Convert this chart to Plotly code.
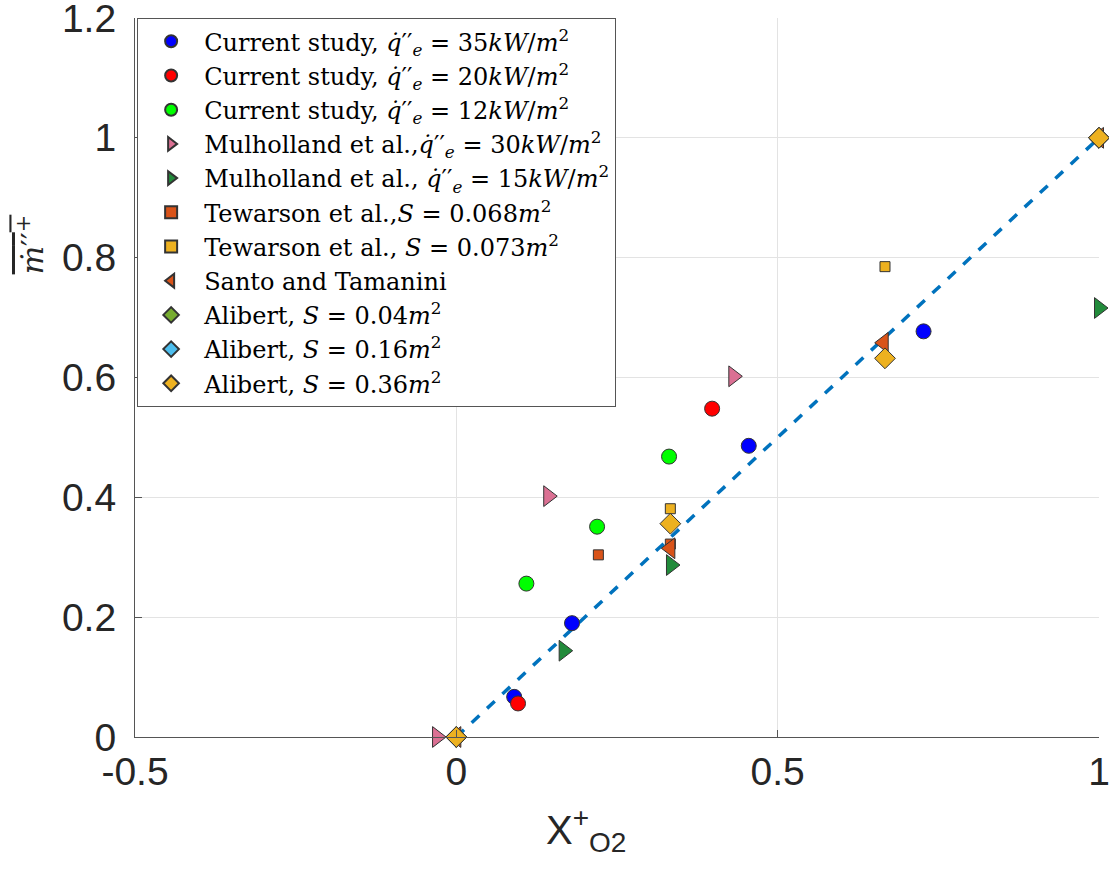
import plotly.graph_objects as go

# ---- data ----
cs35_x = [0.09, 0.18, 0.455, 0.727]
cs35_y = [0.067, 0.19, 0.486, 0.677]
cs20_x = [0.096, 0.398]
cs20_y = [0.056, 0.548]
cs12_x = [0.109, 0.219, 0.331]
cs12_y = [0.256, 0.351, 0.468]
mul30_x = [-0.03, 0.143, 0.431]
mul30_y = [0.0, 0.402, 0.602]
mul15_x = [0.167, 0.334, 1.0]
mul15_y = [0.144, 0.287, 0.716]
tew068_x = [0.221, 0.333]
tew068_y = [0.304, 0.322]
tew073_x = [0.333, 0.667]
tew073_y = [0.381, 0.785]
santo_x = [0.0, 0.333, 0.665, 1.0]
santo_y = [0.0, 0.315, 0.658, 1.0]
ali04_x = [0.0, 1.0]
ali04_y = [0.0, 1.0]
ali16_x = [0.0, 1.0]
ali16_y = [0.0, 1.0]
ali36_x = [0.0, 0.333, 0.667, 1.0]
ali36_y = [0.0, 0.356, 0.632, 1.0]
fit_x = [0.0, 1.0]
fit_y = [0.0, 1.0]

x_ticks = [-0.5, 0, 0.5, 1]
x_ticklabels = ["-0.5", "0", "0.5", "1"]
y_ticks = [0, 0.2, 0.4, 0.6, 0.8, 1, 1.2]
y_ticklabels = ["0", "0.2", "0.4", "0.6", "0.8", "1", "1.2"]

QE = "<i>q̇</i>′′<sub><i>e</i></sub>"
names = [
    f"Current study, {QE} = 35<i>kW</i>/<i>m</i><sup>2</sup>",
    f"Current study, {QE} = 20<i>kW</i>/<i>m</i><sup>2</sup>",
    f"Current study, {QE} = 12<i>kW</i>/<i>m</i><sup>2</sup>",
    f"Mulholland et al.,{QE} = 30<i>kW</i>/<i>m</i><sup>2</sup>",
    f"Mulholland et al., {QE} = 15<i>kW</i>/<i>m</i><sup>2</sup>",
    "Tewarson et al.,<i>S</i> = 0.068<i>m</i><sup>2</sup>",
    "Tewarson et al., <i>S</i> = 0.073<i>m</i><sup>2</sup>",
    "Santo and Tamanini",
    "Alibert, <i>S</i> = 0.04<i>m</i><sup>2</sup>",
    "Alibert, <i>S</i> = 0.16<i>m</i><sup>2</sup>",
    "Alibert, <i>S</i> = 0.36<i>m</i><sup>2</sup>",
]

fig = go.Figure()

# fit line (drawn beneath markers)
fig.add_trace(go.Scatter(x=fit_x, y=fit_y, mode="lines", showlegend=False,
                         line=dict(color="#0072BD", width=3.5, dash="dash"),
                         cliponaxis=False))

series = [
    (cs35_x, cs35_y, "circle", "#0000FF", 15),
    (cs20_x, cs20_y, "circle", "#FF0000", 15),
    (cs12_x, cs12_y, "circle", "#00FF00", 15),
    (mul30_x, mul30_y, "triangle-right", "#DB7093", 18),
    (mul15_x, mul15_y, "triangle-right", "#228B3B", 18),
    (tew068_x, tew068_y, "square", "#D95319", 10),
    (tew073_x, tew073_y, "square", "#EDB120", 10),
    (santo_x, santo_y, "triangle-left", "#D95319", 18),
    (ali04_x, ali04_y, "diamond", "#77AC30", 16),
    (ali16_x, ali16_y, "diamond", "#4DBEEE", 16),
    (ali36_x, ali36_y, "diamond", "#EDB120", 16),
]

for (xs, ys, sym, col, sz), nm in zip(series, names):
    fig.add_trace(go.Scatter(
        x=xs, y=ys, mode="markers", name=nm, cliponaxis=False,
        marker=dict(symbol=sym, color=col, size=sz,
                    line=dict(color="#333333", width=1)),
    ))

fig.update_layout(
    width=1109, height=880,
    margin=dict(l=135, r=10, t=18, b=143),
    paper_bgcolor="white", plot_bgcolor="white",
    font=dict(family="Liberation Sans, Arial, sans-serif", color="#262626"),
    legend=dict(
        x=0.002, y=1, xanchor="left", yanchor="top",
        bgcolor="white", bordercolor="#555555", borderwidth=1.2,
        font=dict(family="DejaVu Serif, serif", size=24, color="#000000"),
        itemsizing="constant", tracegroupgap=0, itemwidth=56,
    ),
    xaxis=dict(
        range=[-0.5, 1], tickvals=x_ticks, ticktext=x_ticklabels,
        showgrid=True, gridcolor="#e3e3e3", gridwidth=1, zeroline=False,
        showline=True, linecolor="#555555", linewidth=1.2,
        ticks="inside", ticklen=7, tickcolor="#555555",
        tickfont=dict(size=39, color="#262626"),
        automargin=False, ticklabeloverflow="allow",
    ),
    yaxis=dict(
        range=[0, 1.2], tickvals=y_ticks, ticktext=y_ticklabels,
        showgrid=True, gridcolor="#e3e3e3", gridwidth=1, zeroline=False,
        showline=True, linecolor="#555555", linewidth=1.2,
        ticks="inside", ticklen=7, tickcolor="#555555",
        tickfont=dict(size=39, color="#262626"),
        automargin=False, ticklabeloverflow="allow", ticklabelstandoff=10,
    ),
    annotations=[
        dict(text="X<sup>+</sup><sub>O2</sub>", xref="paper", yref="paper",
             x=0.468, y=-0.088, xanchor="center", yanchor="top", showarrow=False,
             font=dict(size=40, color="#262626")),
        dict(text='<span style="text-decoration:overline"><i>ṁ</i>′′<sup>+</sup></span>',
             xref="paper", yref="paper", x=-0.108, y=0.685, xanchor="center", yanchor="middle",
             textangle=-90, showarrow=False,
             font=dict(family="DejaVu Serif, serif", size=30, color="#262626")),
    ],
)

# remove the default page margin so the figure fills the window exactly
fig.write_html("out.html", config={"displayModeBar": False},
               post_script="document.body.style.margin='0';document.body.style.overflow='hidden';")
